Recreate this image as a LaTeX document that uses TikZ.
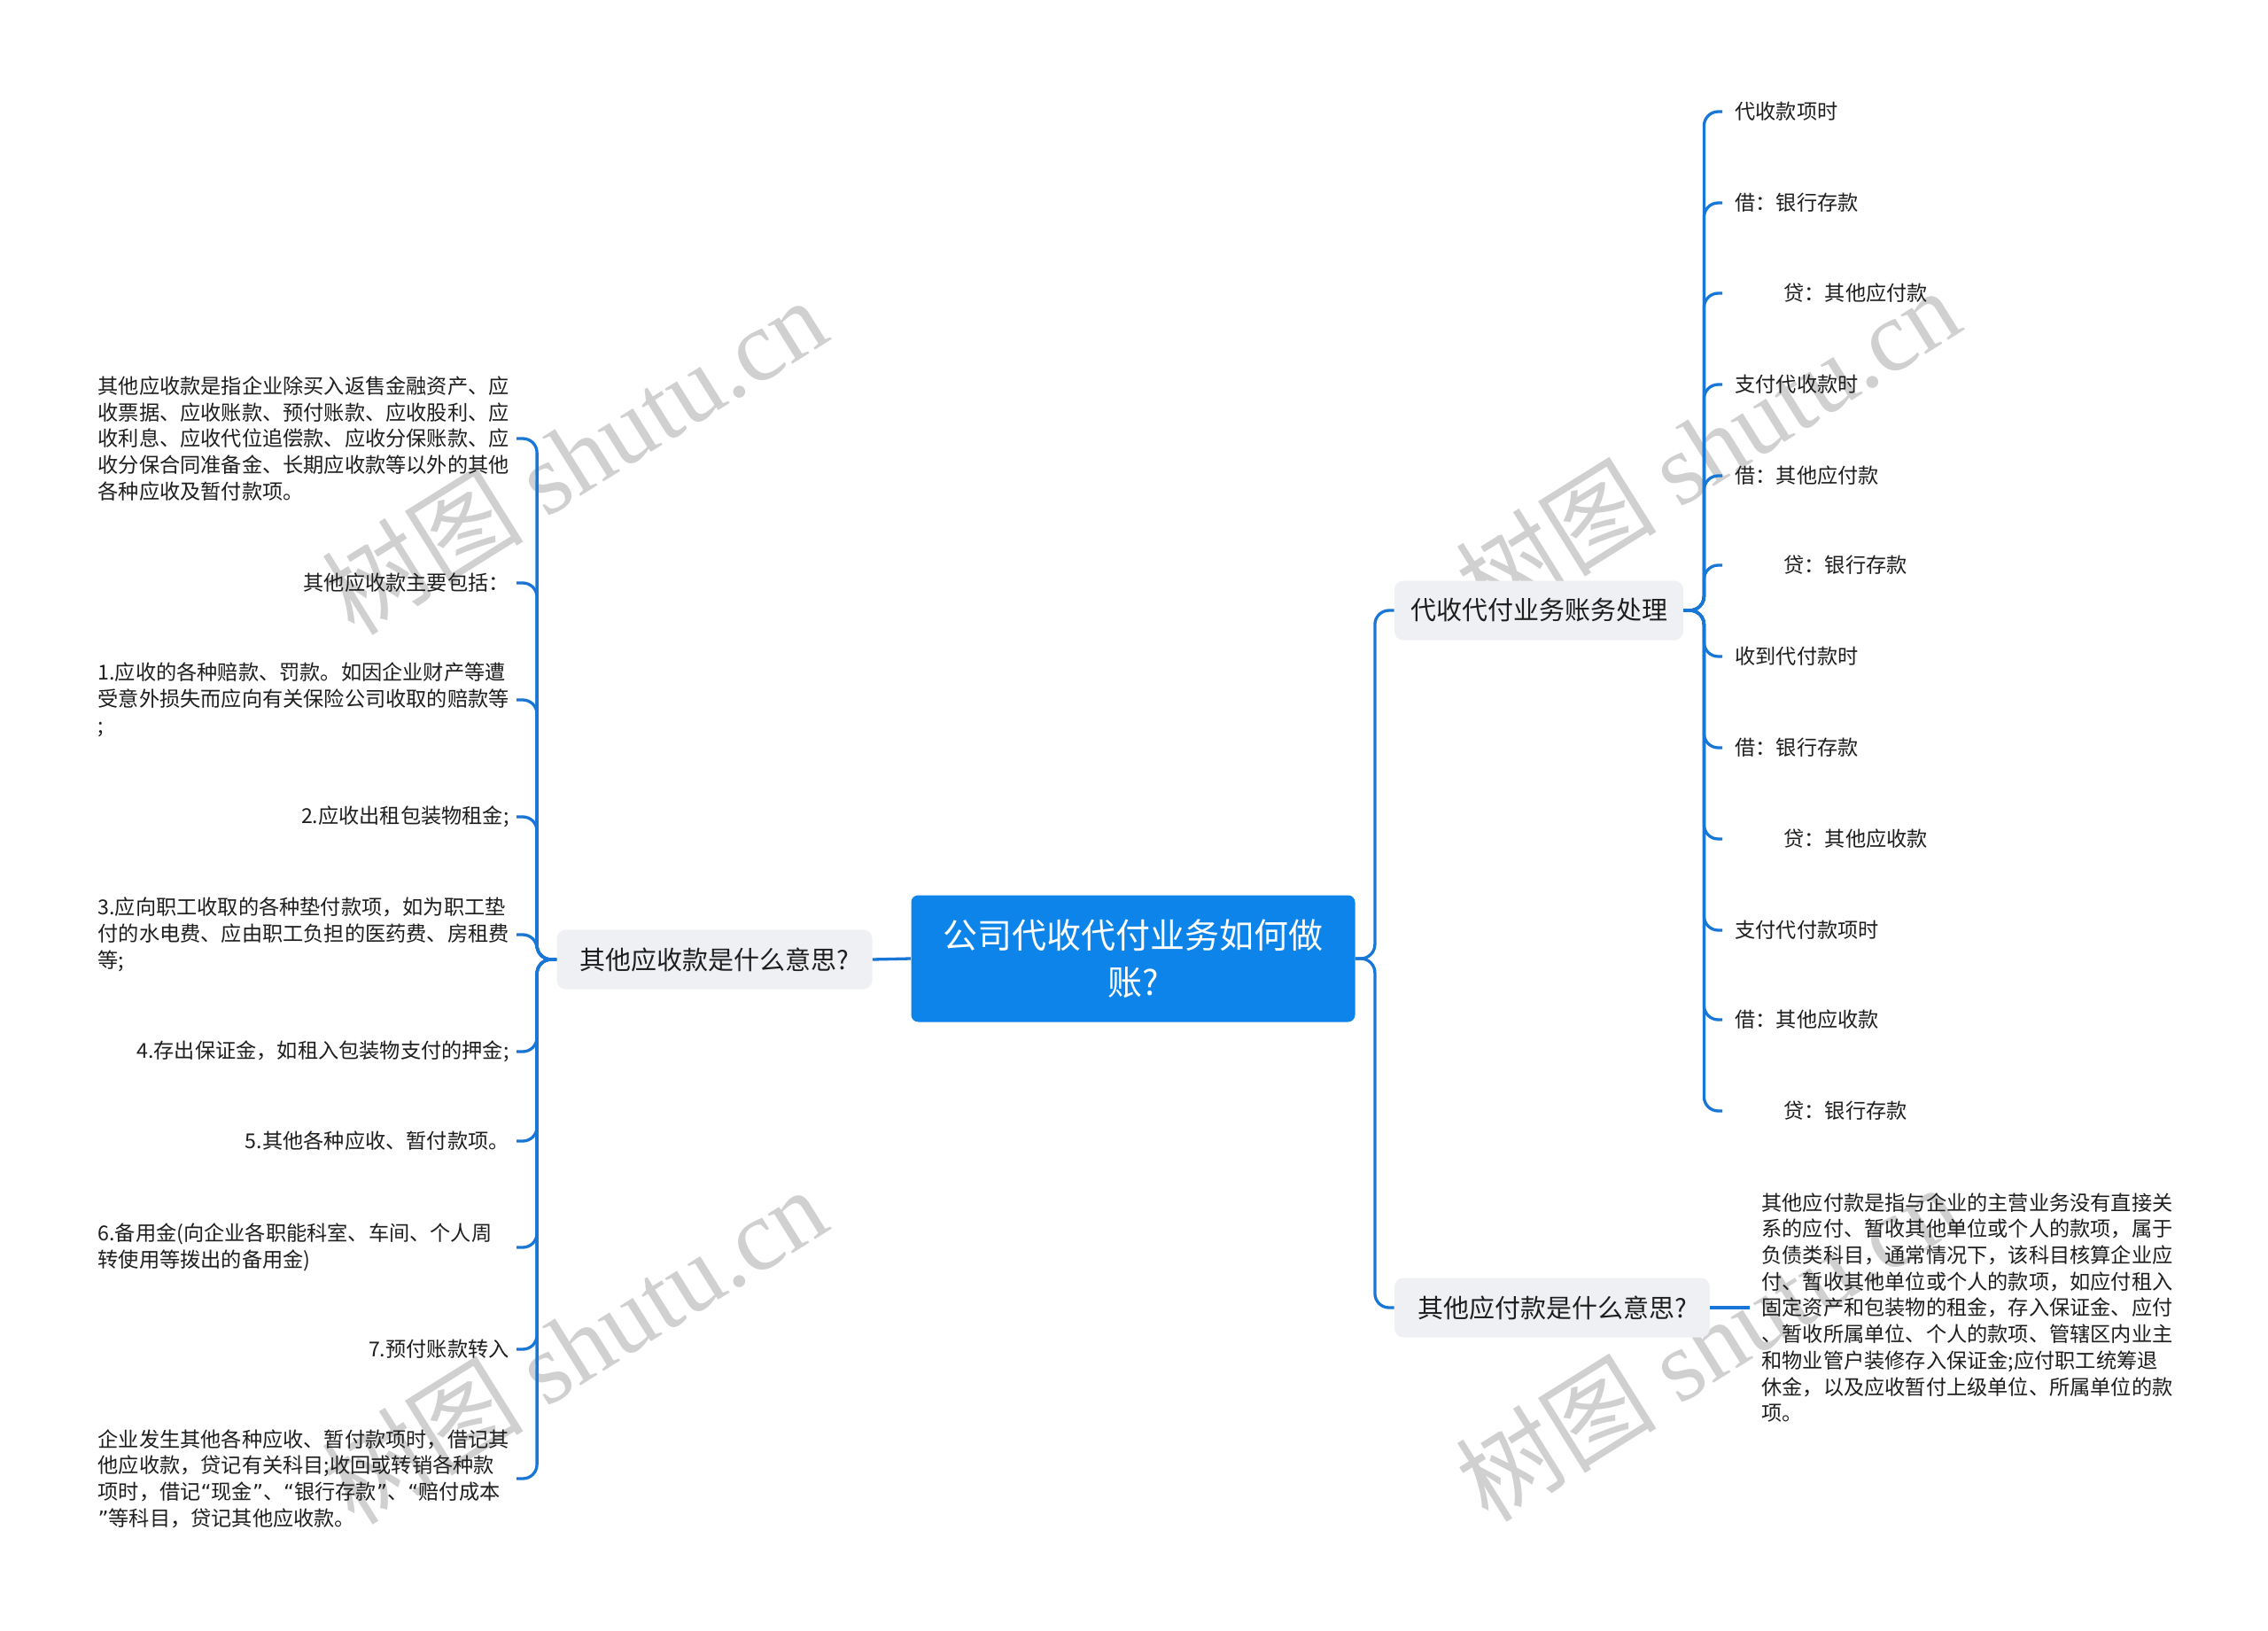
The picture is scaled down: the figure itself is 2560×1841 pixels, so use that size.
\documentclass[tikz,border=0pt]{standalone}
\usepackage{fontspec}
\setmainfont{Noto Sans CJK SC}
\newfontfamily\wmserif{Liberation Serif}
\newfontfamily\qfont{DejaVu Sans}
\newcommand{\myoq}{{\qfont “}}
\newcommand{\mycq}{{\qfont ”}}
\definecolor{lineblue}{RGB}{24,118,214}
\definecolor{rootblue}{RGB}{12,132,234}
\definecolor{subgray}{RGB}{238,240,243}
\definecolor{wmgray}{RGB}{208,208,208}
\definecolor{txt}{RGB}{30,30,30}
\tikzset{
  conn/.style={draw=lineblue, line width=1.65pt, rounded corners=8pt},
  rootbox/.style={fill=rootblue, rounded corners=4pt, minimum width=250.5pt, minimum height=71.5pt,
    inner sep=0pt, text=white, font=\fontsize{19.5}{26.5}\selectfont, align=center},
  subbox/.style={fill=subgray, rounded corners=5pt, minimum height=33.5pt, inner sep=0pt,
    text=txt, font=\fontsize{14.5}{17}\selectfont},
  leaf/.style={inner sep=0pt, text=txt, font=\fontsize{11.6}{14.85}\selectfont},
  para/.style={leaf, text width=232pt, align=left},
  wm/.style={text=wmgray, rotate=32, inner sep=0pt, font=\fontsize{57}{57}\selectfont}
}
\begin{document}
\begin{tikzpicture}[x=0.5pt,y=-0.5pt]
\useasboundingbox (0,0) rectangle (2560,1841);
\fill[white] (0,0) rectangle (2560,1841);

% watermarks
\node[wm] (w1) at (648,514) {树图 {\wmserif shutu.cn}};
\node[wm] (w2) at (1927,503) {树图 {\wmserif shutu.cn}};
\node[wm] (w3) at (648,1518) {树图 {\wmserif shutu.cn}};
\node[wm] (w4) at (1927,1515) {树图 {\wmserif shutu.cn}};

% root and main topics
\node[rootbox] (root) at (1279,1082) {公司代收代付业务如何做\\账?};
\node[subbox, minimum width=178pt] (L) at (806.5,1083) {其他应收款是什么意思?};
\node[subbox, minimum width=163pt] (R1) at (1737,689) {代收代付业务账务处理};
\node[subbox, minimum width=178pt] (R2) at (1752,1476) {其他应付款是什么意思?};

% left leaves
\node[para, anchor=east] (a1) at (575,495) {其他应收款是指企业除买入返售金融资产、应\\收票据、应收账款、预付账款、应收股利、应\\收利息、应收代位追偿款、应收分保账款、应\\收分保合同准备金、长期应收款等以外的其他\\各种应收及暂付款项。};
\node[leaf, anchor=east] (a2) at (575,658) {其他应收款主要包括：};
\node[para, anchor=east] (a3) at (575,790) {1.应收的各种赔款、罚款。如因企业财产等遭\\受意外损失而应向有关保险公司收取的赔款等\\;};
\node[leaf, anchor=east] (a4) at (575,922) {2.应收出租包装物租金;};
\node[para, anchor=east] (a5) at (575,1055) {3.应向职工收取的各种垫付款项，如为职工垫\\付的水电费、应由职工负担的医药费、房租费\\等;};
\node[leaf, anchor=east] (a6) at (575,1187) {4.存出保证金，如租入包装物支付的押金;};
\node[leaf, anchor=east] (a7) at (575,1288) {5.其他各种应收、暂付款项。};
\node[para, anchor=east] (a8) at (575,1408) {6.备用金(向企业各职能科室、车间、个人周\\转使用等拨出的备用金)};
\node[leaf, anchor=east] (a9) at (575,1523) {7.预付账款转入};
\node[para, anchor=east] (a10) at (575,1669) {企业发生其他各种应收、暂付款项时，借记其\\他应收款，贷记有关科目;收回或转销各种款\\项时，借记\myoq 现金\mycq 、\myoq 银行存款\mycq 、\myoq 赔付成本\\\mycq 等科目，贷记其他应收款。};

% right leaves
\node[leaf, anchor=west] (b1) at (1958,126) {代收款项时};
\node[leaf, anchor=west] (b2) at (1958,229) {借：银行存款};
\node[leaf, anchor=west] (b3) at (1958,331) {\hspace*{27.5pt}贷：其他应付款};
\node[leaf, anchor=west] (b4) at (1958,434) {支付代收款时};
\node[leaf, anchor=west] (b5) at (1958,537) {借：其他应付款};
\node[leaf, anchor=west] (b6) at (1958,638) {\hspace*{27.5pt}贷：银行存款};
\node[leaf, anchor=west] (b7) at (1958,741) {收到代付款时};
\node[leaf, anchor=west] (b8) at (1958,844) {借：银行存款};
\node[leaf, anchor=west] (b9) at (1958,947) {\hspace*{27.5pt}贷：其他应收款};
\node[leaf, anchor=west] (b10) at (1958,1050) {支付代付款项时};
\node[leaf, anchor=west] (b11) at (1958,1151) {借：其他应收款};
\node[leaf, anchor=west] (b12) at (1958,1254) {\hspace*{27.5pt}贷：银行存款};

\node[para, anchor=west] (rp) at (1988,1476) {其他应付款是指与企业的主营业务没有直接关\\系的应付、暂收其他单位或个人的款项，属于\\负债类科目，通常情况下，该科目核算企业应\\付、暂收其他单位或个人的款项，如应付租入\\固定资产和包装物的租金，存入保证金、应付\\、暂收所属单位、个人的款项、管辖区内业主\\和物业管户装修存入保证金;应付职工统筹退\\休金，以及应收暂付上级单位、所属单位的款\\项。};

% connectors
\draw[conn] (root.west) -- (L.east);
\draw[conn] (root.east) -- ++(22,0) |- (R1.west);
\draw[conn] (root.east) -- ++(22,0) |- (R2.west);
\foreach \c in {a1,a2,a3,a4,a5,a6,a7,a8,a9,a10}
  \draw[conn] (L.west) -- ++(-22,0) |- ([xshift=4pt]\c.east);
\foreach \c in {b1,b2,b3,b4,b5,b6,b7,b8,b9,b10,b11,b12}
  \draw[conn] (R1.east) -- ++(23,0) |- ([xshift=-7pt]\c.west);
\draw[conn] (R2.east) -- ([xshift=-6.5pt]rp.west);
\end{tikzpicture}
\end{document}
